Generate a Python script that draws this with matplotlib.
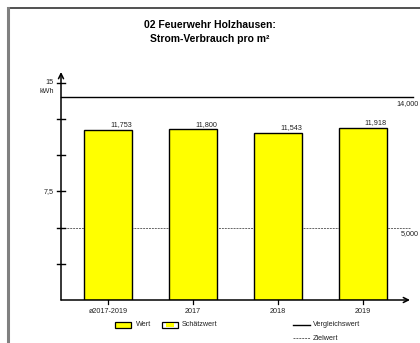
import matplotlib
matplotlib.use("Agg")
import matplotlib.pyplot as plt
from matplotlib.patches import Rectangle
from matplotlib.lines import Line2D

categories = ["ø2017-2019", "2017", "2018", "2019"]
values = [11.753, 11.800, 11.543, 11.918]
value_labels = ["11,753", "11,800", "11,543", "11,918"]
vergleichswert = 14.0
zielwert = 5.0
ytick_vals = [2.5, 5, 7.5, 10, 12.5, 15]
ytick_labels = {7.5: "7,5", 15: "15"}

plt.rcParams['font.family'] = ['Liberation Sans', 'DejaVu Sans']

W, H = 420, 343
fig = plt.figure(figsize=(W / 100, H / 100), dpi=100)

def px(x0, y0, x1, y1):
    return [x0 / W, 1 - y1 / H, (x1 - x0) / W, (y1 - y0) / H]

# outer frame (top & left)
fig.add_artist(Line2D([7.5 / W, 1.0], [1 - 7.5 / H, 1 - 7.5 / H], color="#333333", lw=1.2))
fig.add_artist(Line2D([7.5 / W, 7.5 / W], [0, 1 - 7.5 / H], color="#808080", lw=2.2))

fig.text(210 / W, 1 - 25 / H, "02 Feuerwehr Holzhausen:", ha="center", va="center",
         fontsize=7.5, fontweight="bold")
fig.text(210 / W, 1 - 39 / H, "Strom-Verbrauch pro m²", ha="center", va="center",
         fontsize=7.5, fontweight="bold")

ax = fig.add_axes(px(61, 72, 410, 300))
ax.set_xlim(-0.553, 3.553)
ax.set_ylim(0, 15.76)
for s in ax.spines.values():
    s.set_visible(False)
ax.set_xticks([])
ax.set_yticks([])

x = list(range(len(categories)))
bw = 0.565
ax.bar(x, values, width=bw, color="#FFFF00", edgecolor="black", linewidth=1.0, zorder=3)

for xi, v, lab in zip(x, values, value_labels):
    ax.text(xi + bw / 2, v + 0.12, lab, ha="right", va="bottom", fontsize=5.2, color="#222222")

# reference lines
ax.plot([-0.553, 3.59], [vergleichswert, vergleichswert], color="black", lw=1.0, clip_on=False, zorder=2)
ax.plot([-0.553, 3.553], [zielwert, zielwert], color="#666666", lw=0.7, ls=(0, (2, 1)), clip_on=False, zorder=2)
ax.text(1.024, vergleichswert - 0.15, "14,000", transform=ax.get_yaxis_transform(), ha="right", va="top",
        fontsize=5.2, color="#222222", clip_on=False)
ax.text(1.024, zielwert - 0.15, "5,000", transform=ax.get_yaxis_transform(), ha="right", va="top",
        fontsize=5.2, color="#222222", clip_on=False)

# axes with arrows
ax.annotate("", xy=(-0.553, 15.76), xytext=(-0.553, 0), xycoords="data",
            arrowprops=dict(arrowstyle="->", lw=1.1, color="black", shrinkA=0, shrinkB=0,
                            mutation_scale=9), annotation_clip=False)
ax.annotate("", xy=(3.553, 0), xytext=(-0.553, 0), xycoords="data",
            arrowprops=dict(arrowstyle="->", lw=1.1, color="black", shrinkA=0, shrinkB=0,
                            mutation_scale=9), annotation_clip=False)

# y ticks
for t in ytick_vals:
    ax.plot([-0.6, -0.506], [t, t], color="black", lw=1.0, clip_on=False)
    if t in ytick_labels:
        ax.text(-0.64, t, ytick_labels[t], ha="right", va="center", fontsize=5.2, color="#222222")
ax.text(-0.64, 15 - 0.6, "kWh", ha="right", va="center", fontsize=5.2, color="#222222")

# x ticks and labels
for xi, c in zip(x, categories):
    ax.plot([xi, xi], [0, -0.25], color="black", lw=0.9, clip_on=False)
    ax.text(xi, -0.55, c, ha="center", va="top", fontsize=5.2, color="#222222")

# legend
def fig_rect(x0, y0, x1, y1, fc):
    r = Rectangle((x0 / W, 1 - y1 / H), (x1 - x0) / W, (y1 - y0) / H, transform=fig.transFigure,
                  facecolor=fc, edgecolor="black", lw=0.9)
    fig.add_artist(r)

fig_rect(115, 322, 131, 328, "#FFFF00")
fig.text(136 / W, 1 - 325 / H, "Wert", ha="left", va="center", fontsize=5.2, color="#222222")
fig_rect(162, 322, 178, 328, "white")
fig.add_artist(Rectangle((166 / W, 1 - 327 / H), 8 / W, 4 / H, transform=fig.transFigure,
                         facecolor="#FFFF00", edgecolor="none"))
fig.text(182 / W, 1 - 325 / H, "Schätzwert", ha="left", va="center", fontsize=5.2, color="#222222")
fig.add_artist(Line2D([293 / W, 310 / W], [1 - 325 / H, 1 - 325 / H], color="black", lw=1.0))
fig.text(313 / W, 1 - 325 / H, "Vergleichswert", ha="left", va="center", fontsize=5.2, color="#222222")
fig.add_artist(Line2D([293 / W, 310 / W], [1 - 338 / H, 1 - 338 / H], color="#666666", lw=0.7, ls=(0, (2, 1))))
fig.text(313 / W, 1 - 338 / H, "Zielwert", ha="left", va="center", fontsize=5.2, color="#222222")

fig.savefig("out.png", dpi=100)
